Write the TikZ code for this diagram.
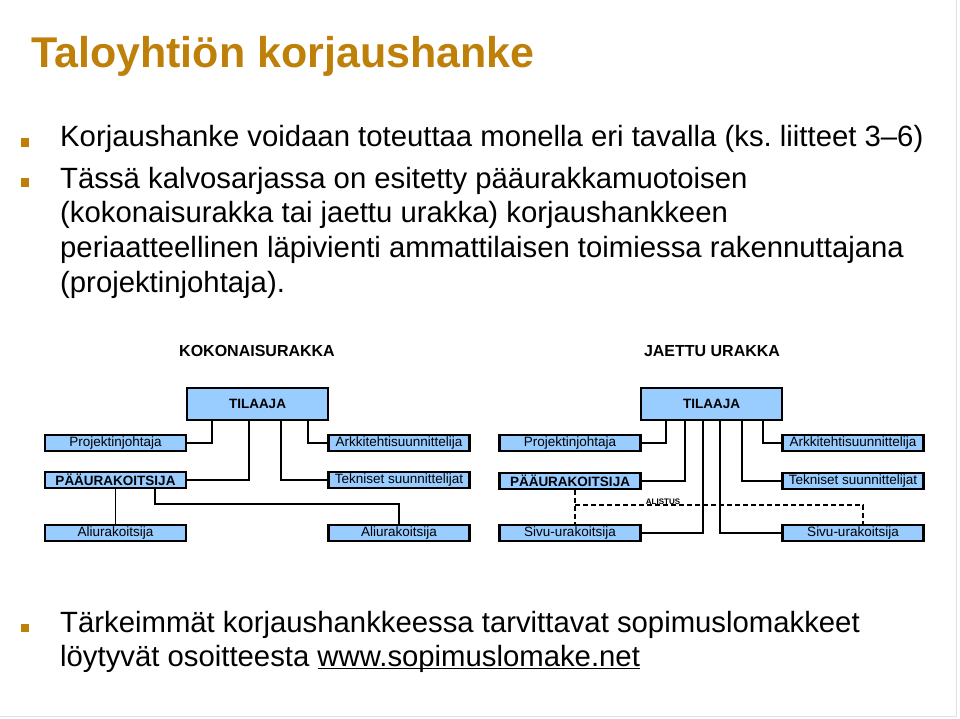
\documentclass[tikz,border=0pt]{standalone}
\usepackage{fontspec}
\setmainfont{Liberation Sans}
\usetikzlibrary{positioning, calc}
\frenchspacing

\definecolor{titlegold}{RGB}{191,128,10}
\definecolor{boxblue}{RGB}{153,204,255}
\definecolor{edgegray}{RGB}{225,225,225}

\newcommand{\weblink}[1]{\underline{\smash{#1}}}

\tikzset{
  orgbox/.style={draw=black, line width=2.2pt, fill=boxblue, minimum width=141pt,
    minimum height=16pt, inner sep=0pt, font=\fontsize{13.5}{15}\selectfont},
  topbox/.style={orgbox, minimum height=32pt, font=\fontsize{13.5}{15}\selectfont\bfseries},
  boldbox/.style={orgbox, font=\fontsize{13.5}{15}\selectfont\bfseries},
  link/.style={line width=1.4pt},
  sublink/.style={line width=1.4pt, dashed, dash pattern=on 5pt off 3pt},
  bulletsq/.style={fill=titlegold, minimum size=8.5pt, inner sep=0pt},
  bodytext/.style={anchor=base west, inner sep=0pt, align=left,
    font=\fontsize{29.3}{34.7}\selectfont},
  heading/.style={inner sep=0pt, font=\fontsize{16}{18}\selectfont\bfseries},
}

\begin{document}
\begin{tikzpicture}[x=1pt, y=-1pt]
    \useasboundingbox[fill=white] (0,0) rectangle (960,718);
    \draw[edgegray, line width=1pt] (956,0) -- (956,716) -- (0,716);

    % title and bullets
    \node[anchor=base west, inner sep=0pt, text=titlegold,
      font=\fontsize{43}{50}\selectfont\bfseries] (title) at (31,67) {Taloyhtiön korjaushanke};
    \node[bulletsq] (b1) at (25,142.5) {};
    \node[bodytext] (t1) at (60,146) {Korjaushanke voidaan toteuttaa monella eri tavalla (ks. liitteet 3–6)};
    \node[bulletsq] (b2) at (25,182.5) {};
    % base anchor of a multi-line node sits on its last line
    \node[bodytext] (t2) at (60,292.1) {Tässä kalvosarjassa on esitetty pääurakkamuotoisen\\
      (kokonaisurakka tai jaettu urakka) korjaushankkeen\\
      periaatteellinen läpivienti ammattilaisen toimiessa rakennuttajana\\
      (projektinjohtaja).};

    % kokonaisurakka
    \node[heading] (kok) at (257,351) {KOKONAISURAKKA};
    \node[topbox] (tA) at (257.5,404) {TILAAJA};
    \node[orgbox] (pjA) at (115.5,443) {Projektinjohtaja};
    \node[orgbox] (arkA) at (399,443) {Arkkitehtisuunnittelija};
    \node[boldbox] (paaA) at (115.5,480) {PÄÄURAKOITSIJA};
    \node[orgbox] (tekA) at (399,480) {Tekniset suunnittelijat};
    \node[orgbox] (ali1A) at (115.5,533) {Aliurakoitsija};
    \node[orgbox] (ali2A) at (399,533) {Aliurakoitsija};

    \draw[link] ([xshift=-45.5pt]tA.south) |- (pjA.east);
    \draw[link] ([xshift=-8.5pt]tA.south) |- (paaA.east);
    \draw[link] ([xshift=23.5pt]tA.south) |- (tekA.west);
    \draw[link] ([xshift=50.5pt]tA.south) |- (arkA.west);
    \draw[link] (paaA) -- (ali1A);
    \draw[link] ([xshift=39.5pt]paaA.south) |- ([yshift=20pt]ali2A.north) -- (ali2A.north);

    % jaettu urakka
    \node[heading] (jae) at (712,351) {JAETTU URAKKA};
    \node[topbox] (tB) at (711.5,404) {TILAAJA};
    \node[orgbox] (pjB) at (570,443) {Projektinjohtaja};
    \node[orgbox] (arkB) at (853,443) {Arkkitehtisuunnittelija};
    \node[boldbox] (paaB) at (570,481) {PÄÄURAKOITSIJA};
    \node[orgbox] (tekB) at (853,481) {Tekniset suunnittelijat};
    \node[orgbox] (sivu1B) at (570,533) {Sivu-urakoitsija};
    \node[orgbox] (sivu2B) at (853,533) {Sivu-urakoitsija};

    \draw[link] ([xshift=-45.5pt]tB.south) |- (pjB.east);
    \draw[link] ([xshift=-26.5pt]tB.south) |- (paaB.east);
    \draw[link] ([xshift=-8.5pt]tB.south) |- (sivu1B.east);
    \draw[link] ([xshift=8.5pt]tB.south) |- (sivu2B.west);
    \draw[link] ([xshift=30.5pt]tB.south) |- (tekB.west);
    \draw[link] ([xshift=51.5pt]tB.south) |- (arkB.west);

    \draw[sublink] ([xshift=5pt]paaB.south) -- ([xshift=5pt]sivu1B.north);
    \coordinate (alist) at ([xshift=5pt,yshift=19pt]sivu1B.north);
    \draw[sublink] (alist) -| ([xshift=10pt]sivu2B.north);
    \node[anchor=south, inner sep=0.5pt, font=\fontsize{8}{9}\selectfont\bfseries]
      (alistus) at ([xshift=88pt]alist) {ALISTUS};

    % bottom bullet
    \node[bulletsq] (b3) at (25,628) {};
    \node[bodytext] (t3) at (60,666.7) {Tärkeimmät korjaushankkeessa tarvittavat sopimuslomakkeet\\
      löytyvät osoitteesta \weblink{www.sopimuslomake.net}};
\end{tikzpicture}
\end{document}
